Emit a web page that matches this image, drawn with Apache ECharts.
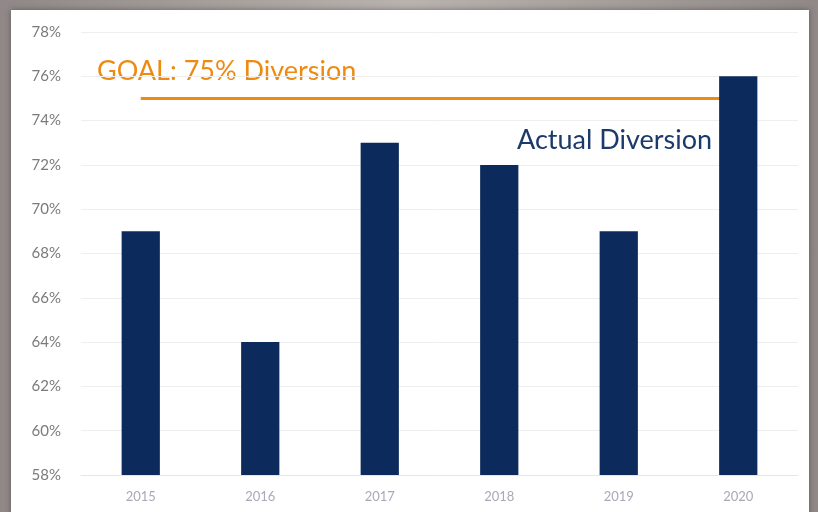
<!DOCTYPE html>
<html>
<head>
<meta charset="utf-8">
<script src="https://cdn.jsdelivr.net/npm/echarts@6/dist/echarts.min.js"></script>
<style>
  html, body { margin: 0; padding: 0; }
  body { background: linear-gradient(90deg, #8f8886, #b9b2ae 50%, #8f8886); }
  #chart { width: 818px; height: 512px; }
</style>
</head>
<body>
<div id="chart"></div>
<script>
// data
const years = ["2015", "2016", "2017", "2018", "2019", "2020"];
const diversion = [69, 64, 73, 72, 69, 76];
const goal = 75;

const chart = echarts.init(document.getElementById("chart"));

const option = {
  backgroundColor: "transparent",
  animation: false,
  grid: { left: 81, right: 20, top: 32, bottom: 37 },
  graphic: [
    {
      type: "rect",
      z: -10,
      shape: { x: 11, y: 10, width: 798, height: 510 },
      style: { fill: "#ffffff", shadowBlur: 6, shadowColor: "rgba(0,0,0,0.35)" },
    },
    {
      type: "text",
      left: 97,
      top: 58,
      z: 0,
      style: {
        text: "GOAL: 75% Diversion",
        fill: "#ee8a12",
        font: "27px Lato, 'DejaVu Sans', sans-serif",
      },
    },
    {
      type: "text",
      left: 517,
      top: 127,
      z: 0,
      style: {
        text: "Actual Diversion",
        fill: "#1b3a6b",
        font: "27px Lato, 'DejaVu Sans', sans-serif",
      },
    },
  ],
  xAxis: {
    type: "category",
    data: years,
    axisLine: { lineStyle: { color: "#e6e6e6" } },
    axisTick: { show: false },
    axisLabel: { color: "#a9a8b8", fontSize: 13, margin: 15, fontFamily: "Lato, sans-serif" },
  },
  yAxis: {
    type: "value",
    min: 58,
    max: 78,
    interval: 2,
    axisLine: { show: false },
    axisTick: { show: false },
    axisLabel: {
      formatter: "{value}%",
      color: "#7a7a7a",
      fontSize: 15,
      margin: 20,
      fontFamily: "Lato, sans-serif",
    },
    splitLine: { lineStyle: { color: "#eeeeee" } },
  },
  series: [
    {
      type: "bar",
      z: 5,
      data: diversion,
      barWidth: "32%",
      itemStyle: { color: "#0d2a5c" },
      markLine: {
        silent: true,
        symbol: "none",
        label: { show: false },
        lineStyle: { color: "#f0890c", width: 3, type: "solid" },
        data: [[{ coord: [years[0], goal] }, { coord: [years[years.length - 1], goal] }]],
      },
    },
  ],
};

chart.setOption(option);
</script>
</body>
</html>
